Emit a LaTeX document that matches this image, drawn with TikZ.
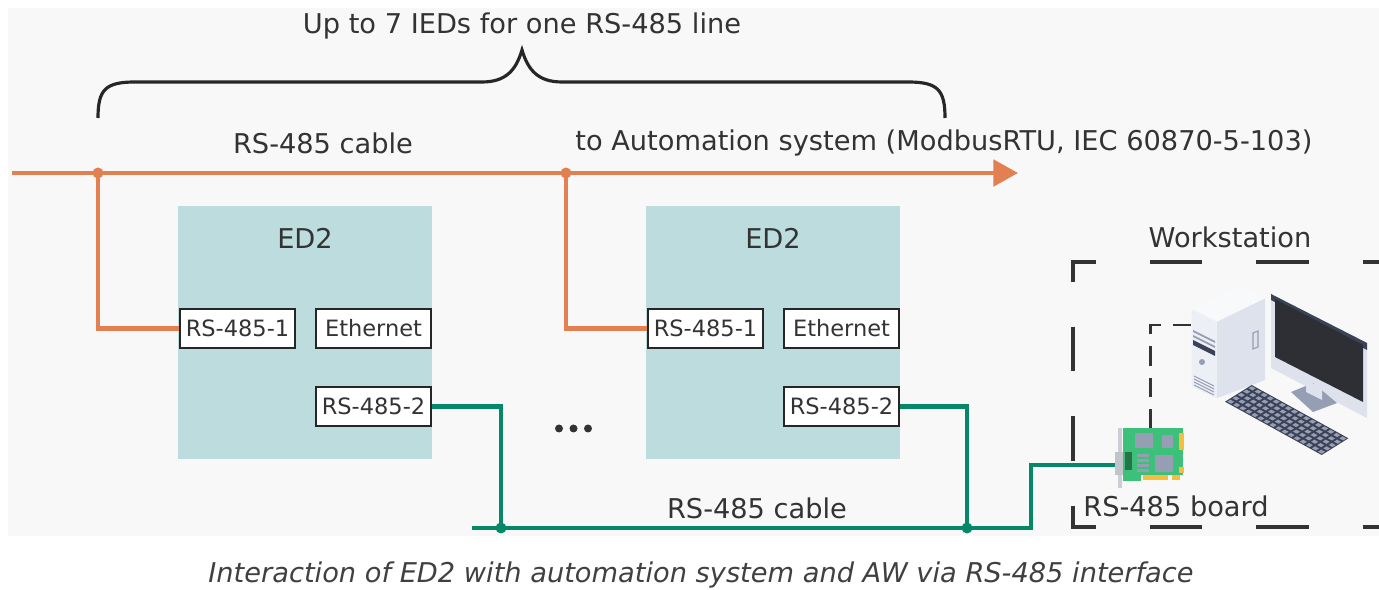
\documentclass[tikz,border=0pt]{standalone}
\usepackage{fontspec}
\setmainfont{DejaVu Sans}
\usetikzlibrary{arrows.meta,calc}

\definecolor{cableorange}{RGB}{226,128,82}
\definecolor{cablegreen}{RGB}{6,135,104}
\definecolor{iedfill}{RGB}{188,220,222}
\definecolor{panelgray}{RGB}{248,248,248}
\definecolor{textgray}{RGB}{51,51,51}
\definecolor{pcface}{RGB}{236,239,245}
\definecolor{pcside}{RGB}{222,226,237}
\definecolor{pcdark}{RGB}{59,66,88}
\definecolor{pckey}{RGB}{150,158,180}
\definecolor{screen}{RGB}{45,47,52}
\definecolor{pcbgreen}{RGB}{60,192,122}
\definecolor{pcbgold}{RGB}{245,190,60}

\begin{document}
\begin{tikzpicture}[x=0.02cm,y=-0.02cm,
  lbl/.style={text=textgray,font=\fontsize{15.5}{18}\selectfont,inner sep=0pt},
  ied/.style={fill=iedfill,minimum width=5.08cm,minimum height=5.06cm,inner sep=0pt},
  port/.style={draw=black!85,line width=1.3pt,fill=white,text=textgray,
    font=\fontsize{12.8}{14}\selectfont,minimum width=2.3cm,minimum height=0.78cm,inner sep=0pt},
  orangeline/.style={cableorange,line width=2.3pt},
  greenline/.style={cablegreen,line width=2.3pt},
  wsline/.style={black!80,line width=2.8pt},
]

\useasboundingbox (0,0) rectangle (1379,590);
\fill[white] (0,0) rectangle (1379,590);
\fill[panelgray] (8,8) rectangle (1379,536);

\draw[black!85,line width=1.8pt] (98,118) .. controls (98,90) and (105,82) .. (135,82)
  -- (482,82) .. controls (506,82) and (516,70) .. (522,50)
  .. controls (528,70) and (538,82) .. (562,82)
  -- (908,82) .. controls (938,82) and (945,90) .. (945,118);
\node[lbl] (span) at (522,26) {Up to 7 IEDs for one RS-485 line};

\node[lbl] (cabletop) at (323,143) {RS-485 cable};
\node[lbl,anchor=west] (target) at (575,143) {to Automation system (ModbusRTU, IEC 60870-5-103)};

\coordinate (busin) at (12,173);
\coordinate (busout) at (1018,173);
\coordinate (ja1) at (98,173);
\coordinate (ja2) at (566,173);
\draw[orangeline,-{Triangle[length=14pt,width=15pt]}] (busin) -- (busout);

\foreach \i/\dx in {1/0,2/468}
{
\node[ied] (ied\i) at (305+\dx,332.5) {};
\node[lbl] (name\i) at (305+\dx,238) {ED2};
\node[port] (rsa\i) at (237.5+\dx,328.5) {RS-485-1};
\node[port] (eth\i) at (373.5+\dx,328.5) {Ethernet};
\node[port] (rsb\i) at (373.5+\dx,406.5) {RS-485-2};
}

\foreach \i in {1,2}
{
\draw[orangeline] (ja\i) |- (rsa\i.west);
\fill[cableorange] (ja\i) circle (5.5);
}

\foreach \x in {559,573.5,588}
{
\fill[textgray] (\x,428.5) circle (4);
}

\coordinate (jb1) at (501,528);
\coordinate (jb2) at (967,528);
\coordinate (lineleft) at (472,528);
\coordinate (boardport) at (1118,465);
\draw[greenline] (lineleft) -- (1031,528) |- (boardport);
\foreach \i in {1,2}
{
\draw[greenline] (rsb\i.east) -| (jb\i);
\fill[cablegreen] (jb\i) circle (5.5);
}
\node[lbl] (cablebot) at (757,508) {RS-485 cable};

\draw[wsline,dash pattern=on 30pt off 30.6pt,dash phase=15.6pt] (1070.5,262) -- (1420,262);
\draw[wsline,dash pattern=on 30pt off 30.6pt,dash phase=15.6pt] (1070.5,527) -- (1420,527);
\draw[wsline,dash pattern=on 25.5pt off 25.5pt,dash phase=14.2pt] (1073,262) -- (1073,527);
\node[lbl] (wsname) at (1230,237) {Workstation};

\coordinate (boardtop) at (1150,428);
\coordinate (pcport) at (1191,325);
\draw[black!80,line width=1.7pt,dash pattern=on 11.3pt off 6.8pt,dash phase=1pt] (pcport) -| (boardtop);

\fill[pcside] (1216.7,321.7) -- (1265,298.3) -- (1265,380) -- (1216.7,398.3) -- cycle;
\fill[white!60!pcface] (1191.7,309.3) -- (1240,286) -- (1265,298.3) -- (1216.7,321.7) -- cycle;
\fill[pcface] (1191.7,309.3) -- (1216.7,321.7) -- (1216.7,398.3) -- (1191.7,386.7) -- cycle;
\draw[pckey,line width=0.6pt] (1253,333) -- (1258,331) -- (1258,347) -- (1253,349) -- cycle;
\foreach \y in {330,335}
{
\fill[pckey] (1193,\y) -- (1215,\y+11) -- (1215,\y+13) -- (1193,\y+2) -- cycle;
}
\fill[pcdark] (1193,340) -- (1215,351) -- (1215,356) -- (1193,345) -- cycle;
\fill[pckey] (1202,362) circle (3);
\foreach \y in {376,379,382,385}
{
\draw[pckey,line width=0.6pt] (1194,\y) -- (1214,\y+10);
}

\fill[pcside] (1271,294) -- (1367,343) -- (1367,418) -- (1271,368) -- cycle;
\fill[pcdark] (1271,294) -- (1367,343) -- (1367,350) -- (1271,300) -- cycle;
\fill[screen] (1275,299) -- (1363,345) -- (1363,402) -- (1275,357) -- cycle;
\fill[pckey] (1291,392) -- (1313,383) -- (1337,403) -- (1313,412) -- cycle;
\fill[pcside] (1306,380) -- (1322,388) -- (1322,400) -- (1306,392) -- cycle;

\coordinate (kO) at (1225,401.7);
\coordinate (kU) at (96.7,53.3);
\coordinate (kV) at (26.7,-16.7);
\fill[pcdark] (kO) -- ($(kO)+(kU)$) -- ($(kO)+(kU)+(kV)$) -- ($(kO)+(kV)$) -- cycle;
\foreach \c in {0.18,1.18,...,11.18,12.2,13.2,14.2,15.2}
\foreach \r in {0.2,1.2,...,4.2}
{
\fill[pckey] ($(kO)+{\c/16}*(kU)+{\r/5}*(kV)$) -- ($(kO)+{(\c+0.64)/16}*(kU)+{\r/5}*(kV)$)
  -- ($(kO)+{(\c+0.64)/16}*(kU)+{(\r+0.6)/5}*(kV)$) -- ($(kO)+{\c/16}*(kU)+{(\r+0.6)/5}*(kV)$) -- cycle;
}

\fill[pcside!80!gray] (1117.7,428.3) rectangle (1121.7,488.3);
\fill[pcside!70!gray] (1115,451.7) rectangle (1125,475);
\fill[pcbgreen] (1123,428.3) rectangle (1183.3,475);
\fill[pcbgreen] (1123,475) rectangle (1141,481);
\fill[pcbgold] (1143.3,475) rectangle (1168.3,480);
\fill[pcbgold] (1171.7,475) rectangle (1180,480);
\fill[pcbgold] (1179,433) rectangle (1184.3,450);
\fill[pcbgold] (1179,466.7) rectangle (1184.3,473.3);
\fill[pcbgreen!60!black] (1125,451.7) rectangle (1131.7,470);
\fill[pckey] (1135,433.3) rectangle (1153.3,448.3);
\fill[pckey] (1161.7,435) rectangle (1173.3,448.3);
\fill[pckey] (1155,455) rectangle (1173.3,471.7);
\foreach \y in {454,459,464,469}
{
\fill[pckey] (1137,\y) rectangle (1149,\y+3);
}
\node[lbl] (boardname) at (1176,506) {RS-485 board};

\node[lbl,text=black!75,font=\fontsize{15.5}{18}\selectfont\itshape] (caption) at (701,575)
  {Interaction of ED2 with automation system and AW via RS-485 interface};

\end{tikzpicture}
\end{document}
